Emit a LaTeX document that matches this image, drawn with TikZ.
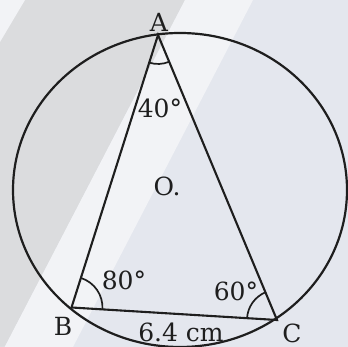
\documentclass[tikz,border=0pt]{standalone}
\usepackage{fontspec}
\setmainfont{DejaVu Serif}
\usetikzlibrary{angles}
\definecolor{bgblue}{HTML}{E4E7EE}
\definecolor{bggrey}{HTML}{DBDCDE}
\definecolor{bgwhite}{HTML}{F2F3F6}
\definecolor{ink}{HTML}{1E1E1E}
\tikzset{
  edge/.style={draw=ink, line width=2.1pt},
  rim/.style={draw=ink, line width=2.2pt},
  anglemark/.style={draw=ink, line width=1.7pt, angle radius=29pt},
  lbl/.style={inner sep=0pt, text=ink, font=\fontsize{25}{28}\selectfont}
}
\begin{document}
\begin{tikzpicture}[x=1pt,y=1pt]
\useasboundingbox (0,0) rectangle (348,347);
\clip (0,0) rectangle (348,347);
% background
\fill[bgblue] (0,0) rectangle (348,347);
\fill[bggrey] (0,347) -- (185,347) -- (0,-9) -- cycle;
\fill[bgwhite] (185,347) -- (253,347) -- (73,0) -- (0,0) -- (0,-9) -- cycle;
\fill[bgwhite] (0,347) -- (25,347) -- (0,305) -- cycle;
% geometry
\coordinate (O) at (180,157);
\coordinate (A) at (158,312);
\coordinate (B) at (71.5,39.5);
\coordinate (C) at (277,27);
\draw[rim] (O) ellipse [x radius=167, y radius=157];
\draw[edge, line join=miter] (A) -- (B) -- (C) -- cycle;
\pic[anglemark] {angle = B--A--C};
\pic[anglemark, angle radius=31pt] {angle = C--B--A};
\pic[anglemark, angle radius=30pt] {angle = A--C--B};
% labels
\node[lbl] (lA) at (159,325) {A};
\node[lbl] (lB) at (63,21) {B};
\node[lbl] (lC) at (292,14) {C};
\node[lbl] (l40) at (160,239) {40°};
\node[lbl] (lO) at (167,161) {O.};
\node[lbl] (l80) at (124,67) {80°};
\node[lbl] (l60) at (236,56) {60°};
\node[lbl] (lBC) at (181,15) {6.4 cm};
\end{tikzpicture}
\end{document}
